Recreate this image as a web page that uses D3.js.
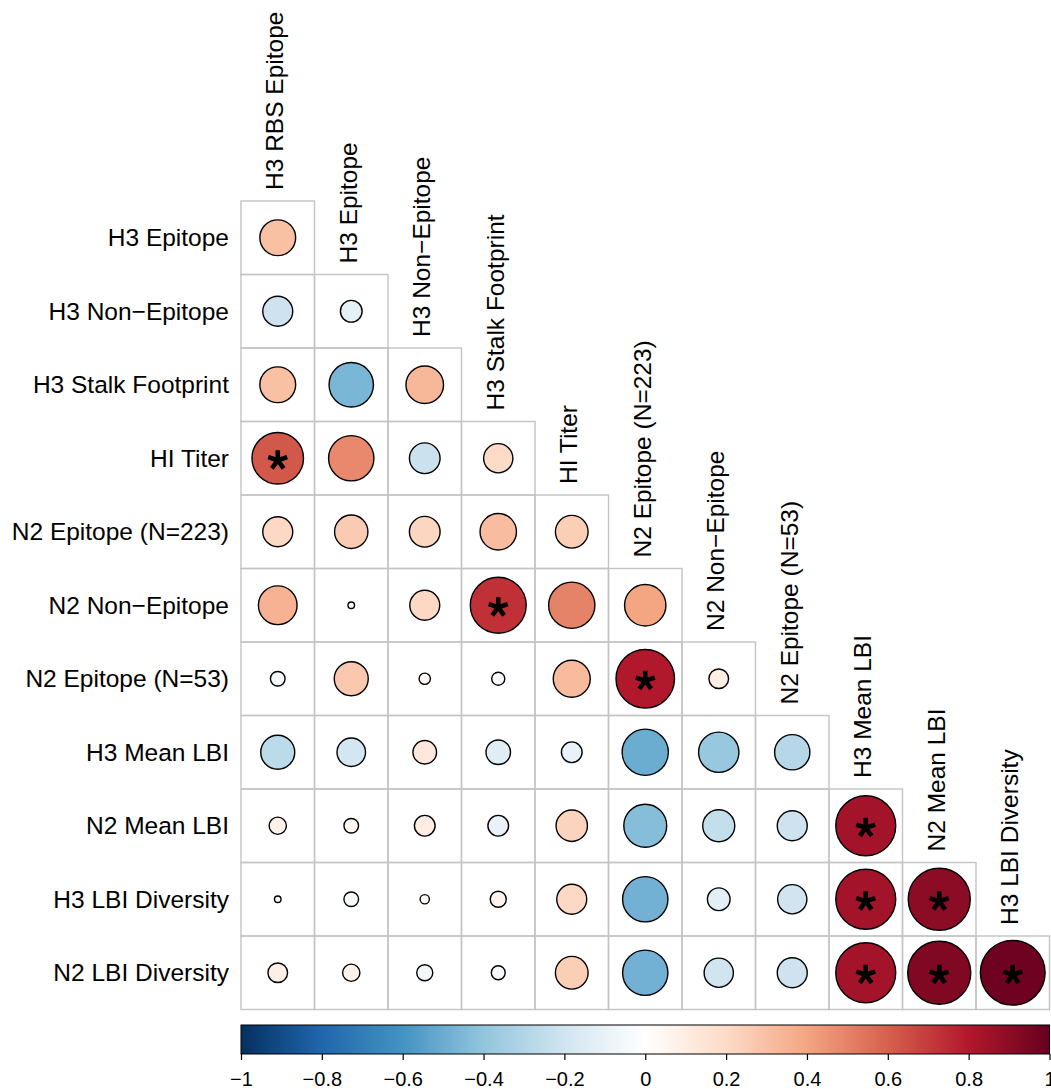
<!DOCTYPE html>
<html>
<head>
<meta charset="utf-8">
<script src="https://cdn.jsdelivr.net/npm/d3@7"></script>
<style>
  html, body { margin: 0; padding: 0; background: #fff; }
  svg { display: block; font-family: "Liberation Sans", Arial, Helvetica, sans-serif; }
</style>
</head>
<body>
<svg id="chart" width="1051" height="1089"></svg>
<script>
// Variables along the rows (lower triangle, diagonal dropped)
const rowLabels = [
  "H3 Epitope", "H3 Non\u2212Epitope", "H3 Stalk Footprint", "HI Titer",
  "N2 Epitope (N=223)", "N2 Non\u2212Epitope", "N2 Epitope (N=53)",
  "H3 Mean LBI", "N2 Mean LBI", "H3 LBI Diversity", "N2 LBI Diversity"
];
// Variables along the columns
const colLabels = [
  "H3 RBS Epitope", "H3 Epitope", "H3 Non\u2212Epitope", "H3 Stalk Footprint",
  "HI Titer", "N2 Epitope (N=223)", "N2 Non\u2212Epitope", "N2 Epitope (N=53)",
  "H3 Mean LBI", "N2 Mean LBI", "H3 LBI Diversity"
];
// Correlation coefficients, one array per row (row i has i+1 entries)
const corrRows = [
  [0.30],
  [-0.21, -0.11],
  [0.30, -0.46, 0.33],
  [0.62, 0.48, -0.22, 0.20],
  [0.21, 0.26, 0.22, 0.31, 0.25],
  [0.35, 0.01, 0.21, 0.73, 0.50, 0.40],
  [-0.05, 0.27, 0.03, -0.04, 0.32, 0.80, 0.09],
  [-0.27, -0.19, 0.13, -0.14, -0.10, -0.50, -0.38, -0.29],
  [0.07, 0.05, 0.10, -0.10, 0.23, -0.43, -0.24, -0.21, 0.84],
  [0.01, -0.05, 0.02, 0.06, 0.21, -0.48, -0.12, -0.20, 0.84, 0.90],
  [0.09, 0.07, -0.06, -0.045, 0.25, -0.48, -0.20, -0.21, 0.84, 0.93, 0.98]
];
// Significant correlations, as [row, column] index pairs
const sigCells = [[3, 0], [5, 3], [6, 5], [8, 8], [9, 8], [9, 9], [10, 8], [10, 9], [10, 10]];
// Diverging palette stops and colour-bar ticks
const paletteStops = ["#053061", "#2166AC", "#4393C3", "#92C5DE", "#D1E5F0", "#FFFFFF",
                      "#FDDBC7", "#F4A582", "#D6604D", "#B2182B", "#67001F"];
const legendTicks = [-1, -0.8, -0.6, -0.4, -0.2, 0, 0.2, 0.4, 0.6, 0.8, 1];

const svg = d3.select("#chart");
const gridLeft = 241, gridTop = 201, cell = 73.5;
const n = colLabels.length;

const x = d3.scaleBand().domain(d3.range(n)).range([gridLeft, gridLeft + n * cell]);
const y = d3.scaleBand().domain(d3.range(rowLabels.length)).range([gridTop, gridTop + rowLabels.length * cell]);
const color = d3.scaleLinear()
  .domain(d3.range(paletteStops.length).map(i => -1 + 2 * i / (paletteStops.length - 1)))
  .range(paletteStops)
  .interpolate(d3.interpolateRgb);
const radius = v => 0.445 * cell * Math.sqrt(Math.abs(v));

const cells = [];
corrRows.forEach((row, i) => row.forEach((v, j) => cells.push({ i, j, v })));
const sigSet = new Set(sigCells.map(d => d[0] + "-" + d[1]));

// cell grid
svg.append("g").selectAll("rect").data(cells).join("rect")
  .attr("x", d => x(d.j)).attr("y", d => y(d.i))
  .attr("width", x.bandwidth()).attr("height", y.bandwidth())
  .attr("fill", "none").attr("stroke", "#C4C4C4").attr("stroke-width", 1.4);

// circles
svg.append("g").selectAll("circle").data(cells).join("circle")
  .attr("cx", d => x(d.j) + x.bandwidth() / 2)
  .attr("cy", d => y(d.i) + y.bandwidth() / 2)
  .attr("r", d => radius(d.v))
  .attr("fill", d => color(d.v))
  .attr("stroke", "#000").attr("stroke-width", 1.4);

// asterisks on significant cells (five-armed)
const armLen = 10;
const starPath = d3.range(5).map(k => {
  const a = (-90 + 72 * k) * Math.PI / 180;
  return `M0,0L${(armLen * Math.cos(a)).toFixed(2)},${(armLen * Math.sin(a)).toFixed(2)}`;
}).join("");
svg.append("g").selectAll("path").data(cells.filter(d => sigSet.has(d.i + "-" + d.j))).join("path")
  .attr("transform", d => `translate(${x(d.j) + x.bandwidth() / 2},${y(d.i) + y.bandwidth() / 2 + 2})`)
  .attr("d", starPath)
  .attr("stroke", "#000").attr("stroke-width", 4.6).attr("fill", "none");

// row labels
svg.append("g").selectAll("text").data(rowLabels).join("text")
  .attr("x", gridLeft - 12)
  .attr("y", (d, i) => y(i) + y.bandwidth() / 2 + 8.5)
  .attr("text-anchor", "end")
  .attr("font-size", 24.5)
  .attr("fill", "#000")
  .text(d => d);

// column labels, vertical, above each diagonal cell
svg.append("g").selectAll("text").data(colLabels).join("text")
  .attr("transform", (d, j) => `translate(${x(j) + x.bandwidth() / 2 + 5.5},${y(j) - 11}) rotate(-90)`)
  .attr("text-anchor", "start")
  .attr("font-size", 24.5)
  .attr("fill", "#000")
  .text(d => d);

// colour bar
const barTop = 1025, barHeight = 29;
const lx = d3.scaleLinear().domain([-1, 1]).range([gridLeft, gridLeft + n * cell]);
const grad = svg.append("defs").append("linearGradient").attr("id", "corrGrad")
  .attr("x1", "0%").attr("x2", "100%").attr("y1", "0%").attr("y2", "0%");
grad.selectAll("stop").data(paletteStops).join("stop")
  .attr("offset", (d, i) => (100 * i / (paletteStops.length - 1)) + "%")
  .attr("stop-color", d => d);
svg.append("rect")
  .attr("x", lx(-1)).attr("y", barTop)
  .attr("width", lx(1) - lx(-1)).attr("height", barHeight)
  .attr("fill", "url(#corrGrad)").attr("stroke", "#000").attr("stroke-width", 1);

const axis = d3.axisBottom(lx).tickValues(legendTicks).tickSize(6).tickPadding(12)
  .tickFormat(d => d3.format("~g")(+d.toFixed(1)));
const axG = svg.append("g").attr("transform", `translate(0,${barTop + barHeight})`).call(axis);
axG.select(".domain").remove();
axG.selectAll(".tick line").attr("stroke", "#000").attr("stroke-width", 1.2);
axG.selectAll(".tick text").attr("font-size", 20).attr("fill", "#000")
  .attr("font-family", "'Liberation Sans', Arial, sans-serif");
</script>
</body>
</html>
